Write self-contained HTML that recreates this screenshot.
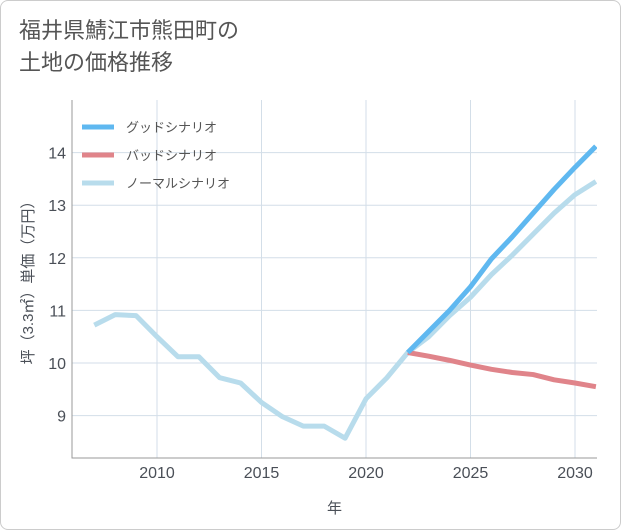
<!DOCTYPE html>
<html><head><meta charset="utf-8">
<style>
body{margin:0;background:#fff;font-family:"Liberation Sans","Noto Sans CJK JP",sans-serif;}
#card{position:absolute;left:0;top:0;width:619px;height:528px;border:1px solid #ccc;border-radius:8px;background:#fff;}
#title{position:absolute;left:18px;top:14px;font-size:22px;line-height:32px;color:#555;font-family:"Liberation Sans","Noto Sans CJK JP",sans-serif;}
svg text{font-family:"Liberation Sans","Noto Sans CJK JP",sans-serif;}
</style></head>
<body>
<div id="card">
<div id="title">福井県鯖江市熊田町の<br>土地の価格推移</div>
</div>
<svg id="chart" width="621" height="530" style="position:absolute;left:0;top:0"></svg>
<script>
const normalYears=[2007,2008,2009,2010,2011,2012,2013,2014,2015,2016,2017,2018,2019,2020,2021,2022,2023,2024,2025,2026,2027,2028,2029,2030,2031];
const normalVals=[10.72,10.92,10.9,10.5,10.12,10.12,9.72,9.62,9.25,8.98,8.8,8.8,8.57,9.32,9.72,10.2,10.5,10.9,11.25,11.68,12.05,12.45,12.85,13.2,13.45];
const futureYears=[2022,2023,2024,2025,2026,2027,2028,2029,2030,2031];
const goodVals=[10.2,10.6,11.0,11.45,11.98,12.4,12.85,13.3,13.72,14.12];
const badVals=[10.2,10.13,10.05,9.96,9.88,9.82,9.78,9.68,9.62,9.55];
const xTicks=[2010,2015,2020,2025,2030];
const yTicks=[9,10,11,12,13,14];
const seriesNames=["グッドシナリオ","バッドシナリオ","ノーマルシナリオ"];
const seriesColors=["#5fb8f0","#e0848a","#b8dcec"];

const L=72,R=597,T=100,B=458;
const x=y=>157+(y-2010)*20.9;
const yv=v=>363-(v-10)*52.6;
const svg=document.getElementById('chart');
const NS='http://www.w3.org/2000/svg';
function mk(tag,attrs,parent){const e=document.createElementNS(NS,tag);for(const k in attrs)e.setAttribute(k,attrs[k]);(parent||svg).appendChild(e);return e;}

const grid=mk('g',{});


xTicks.forEach(t=>{
  const l=mk('line',{x1:x(t),x2:x(t),y1:T,y2:B,stroke:'#d3dee8','stroke-width':1},grid);
  
  
  const tx=mk('text',{x:x(t),y:B+20,'text-anchor':'middle','font-size':16,fill:'#4a4f57'});
  tx.textContent=t;
  
  
});
yTicks.forEach(t=>{
  const l=mk('line',{x1:L,x2:R,y1:yv(t),y2:yv(t),stroke:'#d3dee8','stroke-width':1},grid);
  
  
  const tx=mk('text',{x:L-6,y:yv(t)+6,'text-anchor':'end','font-size':16,fill:'#4a4f57'});
  tx.textContent=t;
  
  
});
const ax=mk('path',{d:`M${L},${T}V${B}H${R}`,fill:'none',stroke:'#999','stroke-width':1});



const xt=mk('text',{x:(L+R)/2,y:513,'text-anchor':'middle','font-size':15,fill:'#4a4f57'});
xt.textContent='年';


const yt=mk('text',{x:0,y:0,'text-anchor':'middle','font-size':15,fill:'#4a4f57',transform:`translate(33,${(T+B)/2}) rotate(-90)`});
yt.textContent='坪（3.3㎡）単価（万円）';



const clip=mk('clipPath',{id:'pc'});mk('rect',{x:L,y:T,width:R-L,height:B-T},clip);
function line(xs,vs,color,name){
  const d=xs.map((yr,i)=>(i?'L':'M')+x(yr)+','+yv(vs[i])).join('');
  const p=mk('path',{d,fill:'none',stroke:color,'stroke-width':5,'stroke-linejoin':'round','clip-path':'url(#pc)'});
  
  
}
line(normalYears,normalVals,seriesColors[2],'normal-scenario-line');
line(futureYears,badVals,seriesColors[1],'bad-scenario-line');
line(futureYears,goodVals,seriesColors[0],'good-scenario-line');

seriesNames.forEach((n,i)=>{
  const yy=127+i*28;
  const g=mk('g',{});
  
  
  mk('line',{x1:82,x2:114,y1:yy,y2:yy,stroke:seriesColors[i],'stroke-width':5},g);
  const t=mk('text',{x:126,y:yy+5,'font-size':13,fill:'#555'},g);
  t.textContent=n;
});
</script>
</body></html>
